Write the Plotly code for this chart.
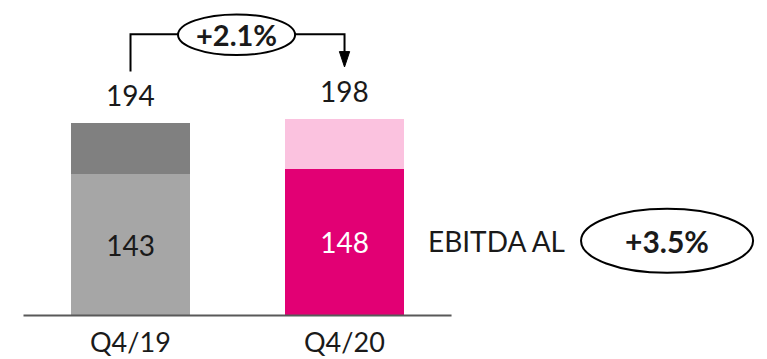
import plotly.graph_objects as go

# Quarterly EBITDA AL (€m), split into base and remainder
quarters = ["Q4/19", "Q4/20"]
base_values = [143, 148]          # EBITDA AL
totals = [194, 198]               # total per quarter
top_values = [t - b for t, b in zip(totals, base_values)]

base_colors = ["#a6a6a6", "#e20074"]
top_colors = ["#808080", "#fbc2df"]
base_text_colors = ["#1a1a1a", "#ffffff"]

total_growth = (totals[1] / totals[0] - 1) * 100
base_growth = (base_values[1] / base_values[0] - 1) * 100

FONT = "Lato"
TXT = "#1a1a1a"

fig = go.Figure()
fig.add_trace(go.Bar(
    x=quarters, y=base_values, width=0.556,
    marker=dict(color=base_colors, line=dict(width=0)),
    text=[str(v) for v in base_values], textposition="inside",
    insidetextanchor="middle", textangle=0, constraintext="none",
    textfont=dict(family=FONT, size=28, color=base_text_colors),
    hoverinfo="skip",
))
fig.add_trace(go.Bar(
    x=quarters, y=top_values, width=0.556,
    marker=dict(color=top_colors, line=dict(width=0)),
    hoverinfo="skip",
))

# totals above the bars
for q, t in zip(quarters, totals):
    fig.add_annotation(x=q, y=t, text=str(t), showarrow=False,
                       yanchor="bottom", yshift=9,
                       font=dict(family=FONT, size=28, color=TXT))
# category labels under the baseline
for q in quarters:
    fig.add_annotation(x=q, y=0, text=q, showarrow=False,
                       yanchor="top", yshift=-7,
                       font=dict(family=FONT, size=27, color=TXT))

# baseline
fig.add_shape(type="line", x0=-0.5, x1=1.5, y0=0, y1=0,
              line=dict(color="#595959", width=2))

# growth bracket between the totals
bracket_y = 283.5
fig.add_shape(type="path",
              path=f"M 0,{totals[0] + 52} L 0,{bracket_y} L 1,{bracket_y} L 1,{totals[1] + 66}",
              line=dict(color="#000000", width=2))
fig.add_shape(type="path",
              path=f"M 0.976,{totals[1] + 68} L 1.024,{totals[1] + 68} L 1,{totals[1] + 52.5} Z",
              fillcolor="#000000", line=dict(color="#000000", width=1))
fig.add_shape(type="circle", x0=0.222, x1=0.769, y0=262.5, y1=303.5,
              fillcolor="#ffffff", line=dict(color="#000000", width=2))
fig.add_annotation(x=0.4955, y=bracket_y, text=f"<b>+{total_growth:.1f}%</b>",
                   showarrow=False, font=dict(family=FONT, size=29, color=TXT))

# EBITDA AL growth callout
fig.add_annotation(x=1.71, y=75, text="EBITDA AL", showarrow=False,
                   font=dict(family=FONT, size=28, color=TXT))
fig.add_shape(type="circle", x0=2.105, x1=2.909, y0=43, y1=107.5,
              fillcolor="#ffffff", line=dict(color="#000000", width=2))
fig.add_annotation(x=2.507, y=75, text=f"<b>+{base_growth:.1f}%</b>",
                   showarrow=False, font=dict(family=FONT, size=30, color=TXT))

fig.update_layout(
    width=767, height=359,
    margin=dict(l=0, r=0, t=0, b=0),
    paper_bgcolor="#ffffff", plot_bgcolor="#ffffff",
    barmode="stack", showlegend=False,
    xaxis=dict(type="category", range=[-0.6098, 2.974], visible=False, fixedrange=True),
    yaxis=dict(range=[-43.85, 318.0], visible=False, fixedrange=True),
    font=dict(family=FONT, color=TXT),
)

fig.write_html("out.html")
